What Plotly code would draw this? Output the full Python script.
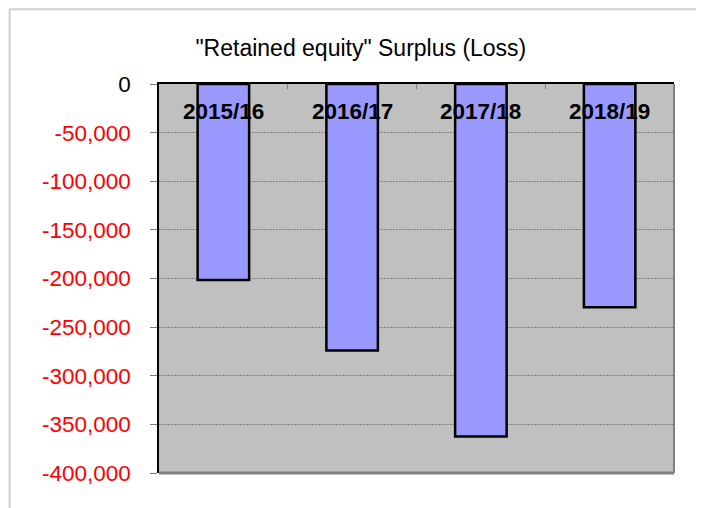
import plotly.graph_objects as go

categories = ["2015/16", "2016/17", "2017/18", "2018/19"]
values = [-201500, -274000, -362500, -229500]
tick_values = [0, -50000, -100000, -150000, -200000, -250000, -300000, -350000, -400000]
tick_labels = ["0", "-50,000", "-100,000", "-150,000", "-200,000", "-250,000", "-300,000", "-350,000", "-400,000"]
title_text = '"Retained equity" Surplus (Loss)'

ticktext = [t if v == 0 else f"<span style='color:#FF0000'>{t}</span>" for t, v in zip(tick_labels, tick_values)]

fig = go.Figure()
fig.add_trace(go.Bar(
    x=categories, y=values,
    marker=dict(color="#9999FF", line=dict(color="#000000", width=2.5)),
    hoverinfo="skip",
))

for c in categories:
    fig.add_annotation(x=c, y=0, xref="x", yref="y", text=f"<b>{c}</b>",
                       showarrow=False, yanchor="top", yshift=-13,
                       font=dict(family="Liberation Sans, Arial", size=22.5, color="#000000"))

# plot-area shadow edges
fig.add_shape(type="line", xref="paper", yref="paper", x0=1, x1=1, y0=0, y1=1,
              line=dict(color="#808080", width=2), layer="above")
fig.add_shape(type="line", xref="paper", yref="paper", x0=0, x1=1, y0=0, y1=0,
              line=dict(color="#808080", width=3), layer="above")
# outer chart border
fig.add_shape(type="rect", xref="paper", yref="paper", x0=-0.29, x1=1.0505, y0=-0.15, y1=1.192,
              line=dict(color="#D0D0D0", width=2), layer="below")

fig.update_layout(
    width=704, height=508,
    paper_bgcolor="#FFFFFF", plot_bgcolor="#C0C0C0",
    margin=dict(l=151, r=38, t=76, b=43),
    bargap=0.6,
    showlegend=False,
    title=dict(text=title_text, x=0.392, xref="paper", xanchor="center", y=0.922, yanchor="middle",
               font=dict(family="Liberation Sans, Arial", size=23, color="#000000")),
    font=dict(family="Liberation Sans, Arial"),
)
fig.update_xaxes(
    side="top", showticklabels=False, ticks="inside", ticklen=5, tickcolor="#808080",
    tickson="boundaries", showline=True, linecolor="#000000", linewidth=1.5,
    showgrid=False, zeroline=False,
)
fig.update_yaxes(
    range=[-400000, 0], tickvals=tick_values, ticktext=ticktext,
    ticks="outside", ticklen=7, tickcolor="#808080", ticklabelstandoff=15,
    showline=True, linecolor="#000000", linewidth=1.5,
    showgrid=True, gridcolor="#808080", griddash="2px,1px", gridwidth=1,
    zeroline=False,
    tickfont=dict(family="Liberation Sans, Arial", size=22.5, color="#000000"),
)

fig.write_html("out.html")
